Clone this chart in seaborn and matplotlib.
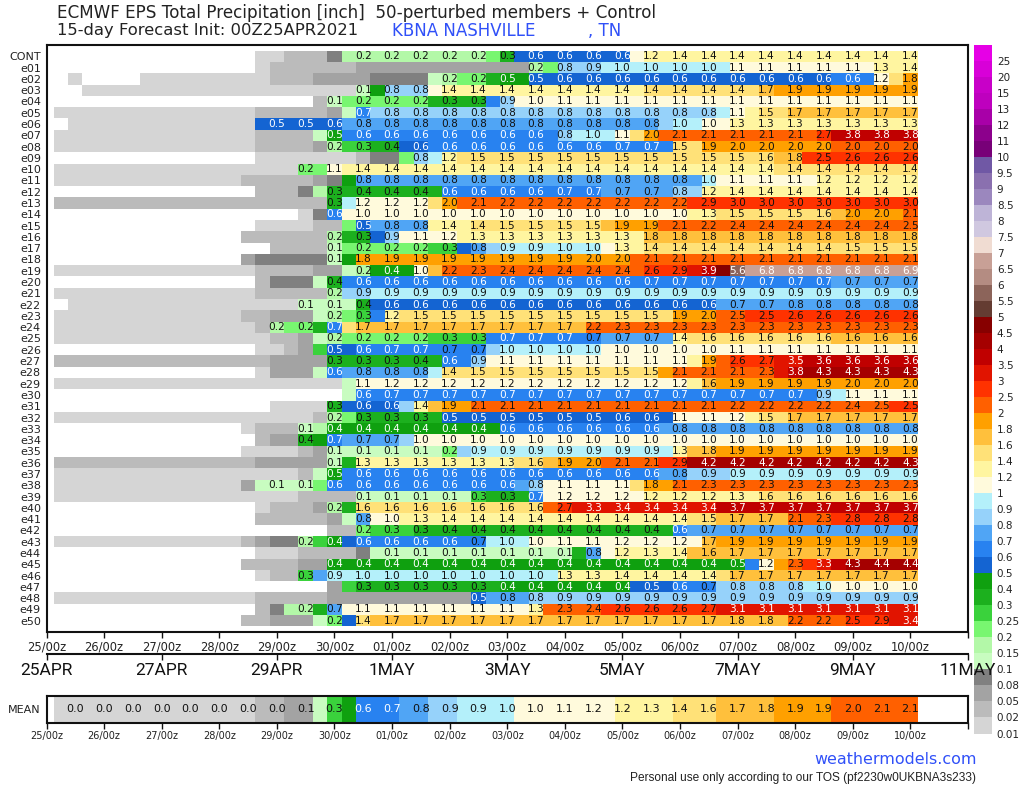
import numpy as np
import pandas as pd
import matplotlib
matplotlib.use("Agg")
import matplotlib.pyplot as plt
from matplotlib.colors import ListedColormap, BoundaryNorm
import seaborn as sns

levels = [0.01, 0.02, 0.05, 0.08, 0.1, 0.15, 0.2, 0.25, 0.3, 0.4, 0.5, 0.6, 0.7, 0.8, 0.9, 1, 1.2, 1.4, 1.6, 1.8, 2,
          2.5, 3, 3.5, 4, 4.5, 5, 5.5, 6, 6.5, 7, 7.5, 8, 8.5, 9, 9.5, 10, 11, 12, 13, 15, 20, 25]
level_labels = ["0.01", "0.02", "0.05", "0.08", "0.1", "0.15", "0.2", "0.25", "0.3", "0.4", "0.5", "0.6", "0.7", "0.8",
                "0.9", "1", "1.2", "1.4", "1.6", "1.8", "2", "2.5", "3", "3.5", "4", "4.5", "5", "5.5", "6", "6.5", "7",
                "7.5", "8", "8.5", "9", "9.5", "10", "11", "12", "13", "15", "20", "25"]
colors = ["#d5d5d5", "#bbbbbb", "#a3a3a3", "#808080", "#c8fcc0", "#b3f8a8", "#78f670", "#3ad23c", "#1cb01e", "#0fa00f",
          "#1464d2", "#2882f0", "#50a5f5", "#96d2fa", "#b4f0fa", "#fffadc", "#fff5a0", "#ffe178", "#ffc03c", "#ffa000",
          "#ff6000", "#ff3200", "#e11400", "#c00000", "#a50000", "#870000", "#643c32", "#8c645a", "#b48c82", "#c8a096",
          "#f0dcd2", "#d0c8e0", "#beb4d7", "#9b87be", "#8a70af", "#7058a5", "#780078", "#8c008c", "#a800a8", "#be00be",
          "#c800c8", "#d800d8", "#e600e6"]

CONT = [0,0,0,0,0,0,0,0,0,0,0,0,0,0,.01,.01,.03,.03,.03,.09,
        .17,.17,.17,.17,.17,.17,.17,.17,.17,.17,.22,.33,.57,.57,.57,.57,.57,.57,.57,.57,
        1.1,1.25,1.38,1.38,1.38,1.38,1.38,1.38,1.38,1.38,1.38,1.38,1.38,1.38,1.38,1.38,1.38,1.38,1.38,1.38]
e01 = [0,0,0,0,0,0,0,0,0,0,0,0,0,0,.01,.03,.03,.03,.03,.03,
       .03,.06,.06,.06,.06,.06,.06,.06,.06,.06,.06,.06,.06,.17,.22,.82,.85,.88,.92,.97,
       .98,.98,.98,.98,.98,.98,.98,1.08,1.08,1.08,1.08,1.08,1.08,1.08,1.08,1.08,1.08,1.3,1.35,1.38]
e02 = [0,.01,0,0,0,0,.01,.01,.01,.01,.01,.01,.01,.01,.01,.03,.03,.03,.06,.06,
       .06,.06,.09,.09,.09,.09,.14,.17,.22,.22,.33,.47,.47,.52,.57,.57,.57,.57,.57,.57,
       .57,.57,.57,.57,.57,.57,.57,.57,.57,.57,.57,.57,.57,.57,.62,.62,.62,1.18,1.5,1.82]
e03 = [0,0,.01,.01,.01,.01,.01,.01,.01,.01,.01,.01,.01,.01,.01,.01,.01,.01,.01,.01,
       .01,.12,.42,.82,.82,.82,1.1,1.38,1.38,1.38,1.38,1.38,1.38,1.38,1.38,1.38,1.38,1.38,1.38,1.38,
       1.38,1.42,1.42,1.42,1.42,1.42,1.42,1.42,1.42,1.7,1.88,1.88,1.88,1.88,1.88,1.88,1.88,1.88,1.88,1.88]
e04 = [0,0,0,0,0,0,0,0,0,0,0,0,0,0,0,0,0,0,.03,.12,
       .22,.22,.22,.22,.22,.22,.33,.33,.33,.33,.63,.88,1.02,1.02,1.08,1.08,1.08,1.08,1.08,1.08,
       1.08,1.08,1.08,1.08,1.08,1.08,1.08,1.08,1.08,1.08,1.08,1.08,1.08,1.08,1.08,1.08,1.08,1.08,1.08,1.08]
e05 = [.01,.01,.01,.01,.01,.01,.01,.01,.01,.01,.01,.01,.01,.01,.03,.03,.03,.03,.03,.06,
       .12,.69,.82,.82,.82,.82,.82,.82,.82,.82,.82,.82,.82,.82,.82,.82,.82,.82,.82,.82,
       .82,.82,.82,.82,.82,.82,.95,1.08,1.3,1.5,1.5,1.7,1.7,1.7,1.7,1.7,1.7,1.7,1.7,1.7]
e06 = [0,.01,.01,.01,.01,.01,.01,.01,.01,.01,.01,.01,.01,.01,.52,.52,.52,.52,.52,.57,
       .77,.77,.77,.77,.77,.77,.77,.77,.77,.77,.77,.77,.77,.77,.77,.77,.77,.77,.77,.77,
       .77,.77,.85,.97,.98,1.04,1.15,1.3,1.3,1.3,1.3,1.3,1.3,1.3,1.3,1.3,1.3,1.3,1.3,1.3]
e07 = [.01,.01,.01,.01,.01,.01,.01,.01,.01,.01,.01,.01,.01,.01,.03,.03,.03,.03,.12,.47,
       .63,.63,.63,.63,.63,.63,.63,.63,.63,.63,.63,.63,.63,.63,.63,.82,.95,.97,.98,1.08,
       1.5,1.98,2.05,2.1,2.1,2.1,2.1,2.1,2.1,2.1,2.1,2.1,2.1,2.7,3.8,3.8,3.8,3.8,3.8,3.8]
e08 = [.01,.01,.01,.01,.01,.01,.01,.01,.01,.01,.01,.01,.01,.01,.03,.03,.03,.03,.06,.17,
       .27,.28,.33,.38,.52,.57,.63,.63,.63,.63,.63,.63,.63,.63,.63,.63,.63,.63,.67,.67,
       .67,.67,.67,1.5,1.5,1.88,1.95,1.97,1.97,1.97,1.97,1.97,1.97,1.97,2.02,2.02,2.02,2.02,2.02,2.02]
e09 = [0,0,0,0,0,0,0,0,0,0,0,0,0,0,.01,.01,.01,.01,.01,.01,
       .01,.03,.09,.09,.22,.84,.95,1.25,1.5,1.5,1.5,1.5,1.5,1.5,1.5,1.5,1.5,1.5,1.5,1.5,
       1.5,1.5,1.5,1.5,1.5,1.5,1.5,1.5,1.55,1.58,1.7,1.78,2.55,2.55,2.6,2.6,2.6,2.6,2.6,2.6]
e10 = [.01,.01,.01,.01,.01,.01,.01,.01,.01,.01,.01,.01,.01,.01,.01,.01,.01,.22,.22,1.1,
       1.38,1.38,1.38,1.38,1.38,1.38,1.38,1.38,1.38,1.38,1.38,1.38,1.38,1.38,1.38,1.38,1.38,1.38,1.38,1.38,
       1.38,1.38,1.38,1.38,1.38,1.38,1.38,1.38,1.38,1.38,1.42,1.42,1.42,1.42,1.42,1.42,1.42,1.42,1.42,1.42]
e11 = [.01,.01,.01,.01,.01,.01,.01,.01,.01,.01,.01,.01,.01,.03,.03,.03,.03,.03,.06,.09,
       .42,.77,.77,.77,.77,.77,.77,.77,.77,.77,.77,.77,.77,.77,.77,.77,.77,.77,.77,.77,
       .77,.77,.77,.77,.77,.97,1.05,1.08,1.08,1.08,1.08,1.08,1.08,1.22,1.22,1.22,1.22,1.22,1.22,1.22]
e12 = [0,0,0,0,0,0,0,0,0,0,0,0,0,0,.03,.03,.03,.09,.17,.33,
       .38,.38,.38,.38,.38,.38,.38,.62,.62,.62,.62,.62,.62,.62,.62,.67,.67,.67,.72,.72,
       .72,.72,.75,.82,.84,1.22,1.3,1.38,1.38,1.38,1.38,1.38,1.38,1.38,1.38,1.38,1.38,1.38,1.38,1.38]
e13 = [.03,.03,.03,.03,.03,.03,.03,.03,.03,.03,.03,.03,.03,.03,.03,.03,.03,.03,.03,.33,
       .95,1.18,1.18,1.18,1.18,1.18,1.5,1.97,2.05,2.1,2.15,2.2,2.2,2.2,2.2,2.2,2.2,2.2,2.2,2.2,
       2.2,2.2,2.2,2.2,2.8,2.9,2.97,2.97,2.97,2.97,2.97,2.97,2.97,2.97,2.97,2.97,2.97,2.97,2.97,2.97]
e14 = [0,0,0,0,0,0,0,0,0,0,0,0,0,0,0,0,0,.01,.09,.62,
       1.02,1.02,1.02,1.02,1.02,1.02,1.02,1.02,1.02,1.02,1.02,1.02,1.02,1.02,1.02,1.02,1.02,1.02,1.02,1.02,
       1.02,1.02,1.02,1.02,1.25,1.3,1.45,1.5,1.5,1.5,1.5,1.5,1.5,1.58,1.7,1.97,1.97,1.97,1.98,2.1]
e15 = [0,0,0,0,0,0,0,0,0,0,0,0,0,0,.01,.01,.01,.01,.03,.03,
       .22,.54,.77,.77,.77,.77,1.25,1.38,1.38,1.42,1.5,1.5,1.5,1.5,1.5,1.5,1.5,1.5,1.7,1.88,
       1.88,1.88,2.05,2.1,2.15,2.2,2.4,2.4,2.4,2.4,2.4,2.4,2.4,2.4,2.4,2.4,2.4,2.4,2.4,2.47]
e16 = [0,0,0,0,0,0,0,0,0,0,0,0,0,.03,.03,.03,.03,.03,.03,.17,
       .33,.33,.52,.88,1.05,1.1,1.15,1.18,1.25,1.3,1.3,1.3,1.3,1.3,1.3,1.3,1.3,1.3,1.3,1.3,
       1.3,1.78,1.78,1.78,1.78,1.78,1.78,1.78,1.78,1.78,1.78,1.78,1.78,1.78,1.78,1.78,1.78,1.78,1.78,1.78]
e17 = [0,0,0,0,0,0,0,0,0,0,0,0,0,0,0,.03,.03,.03,.03,.12,
       .22,.22,.22,.22,.22,.22,.27,.27,.52,.77,.84,.92,.92,.92,.92,.97,.97,.97,1.1,1.3,
       1.35,1.42,1.42,1.42,1.42,1.42,1.42,1.42,1.42,1.42,1.42,1.42,1.42,1.42,1.42,1.5,1.5,1.5,1.5,1.5]
e18 = [0,0,0,0,0,0,0,0,0,0,0,0,0,.06,.09,.09,.09,.09,.09,.12,
       .42,1.82,1.82,1.88,1.88,1.88,1.88,1.88,1.88,1.88,1.88,1.88,1.88,1.88,1.88,1.88,1.97,1.97,1.97,1.97,
       2.1,2.1,2.1,2.1,2.1,2.1,2.1,2.1,2.1,2.1,2.1,2.1,2.1,2.1,2.1,2.1,2.1,2.1,2.1,2.1]
e19 = [.01,.01,.01,.01,.01,.01,.01,.01,.01,.01,.01,.01,.01,.01,.03,.03,.03,.03,.06,.06,
       .12,.17,.42,.42,.42,1.02,1.7,2.2,2.25,2.3,2.35,2.4,2.4,2.4,2.4,2.4,2.4,2.4,2.4,2.4,
       2.45,2.6,2.7,2.9,3.2,3.9,4.8,5.6,6.6,6.8,6.8,6.8,6.8,6.8,6.8,6.8,6.8,6.8,6.8,6.9]
e20 = [0,0,0,0,0,0,0,0,0,0,0,0,0,0,.03,.09,.09,.09,.12,.38,
       .63,.63,.63,.63,.63,.63,.63,.63,.63,.63,.63,.63,.63,.63,.63,.63,.63,.63,.63,.63,
       .63,.67,.67,.67,.67,.67,.67,.67,.67,.67,.67,.67,.67,.67,.72,.72,.72,.72,.72,.72]
e21 = [.01,.01,.01,.01,.01,.01,.01,.01,.01,.01,.01,.01,.01,.01,.03,.03,.03,.03,.03,.17,
       .84,.88,.92,.92,.92,.92,.92,.92,.92,.92,.92,.92,.92,.92,.92,.92,.92,.92,.92,.92,
       .92,.92,.92,.92,.92,.92,.92,.92,.92,.92,.92,.92,.92,.92,.92,.92,.92,.92,.92,.92]
e22 = [0,.01,.01,.01,.01,.01,.01,.01,.01,.01,.01,.01,.01,.01,.01,.01,.01,.12,.12,.12,
       .12,.38,.57,.57,.57,.57,.57,.57,.57,.57,.57,.57,.57,.57,.57,.57,.57,.57,.57,.57,
       .57,.57,.57,.57,.57,.57,.72,.72,.72,.72,.72,.77,.77,.77,.77,.77,.77,.77,.77,.77]
e23 = [.01,.01,.01,.01,.01,.01,.01,.01,.01,.01,.01,.01,.01,.03,.03,.06,.06,.06,.12,.17,
       .22,.27,.63,1.22,1.5,1.5,1.5,1.5,1.5,1.5,1.5,1.5,1.5,1.5,1.5,1.5,1.5,1.5,1.5,1.5,
       1.5,1.5,1.5,1.88,1.95,1.97,2.1,2.47,2.52,2.55,2.6,2.6,2.6,2.6,2.6,2.6,2.6,2.6,2.6,2.6]
e24 = [.01,.01,.01,.01,.01,.01,.01,.01,.01,.01,.01,.01,.01,.01,.03,.17,.22,.22,.33,.69,
       1.5,1.7,1.7,1.7,1.7,1.7,1.7,1.7,1.7,1.7,1.7,1.7,1.7,1.7,1.7,1.7,1.7,2.2,2.3,2.3,
       2.3,2.3,2.3,2.3,2.3,2.3,2.3,2.3,2.3,2.3,2.3,2.3,2.3,2.3,2.3,2.3,2.3,2.3,2.3,2.3]
e25 = [.01,.01,.01,.01,.01,.01,.01,.01,.01,.01,.01,.01,.01,.01,.01,.03,.03,.06,.12,.17,
       .22,.22,.22,.22,.22,.22,.27,.27,.27,.27,.65,.67,.67,.67,.67,.67,.67,.695,.72,.72,
       .72,.72,.72,1.38,1.42,1.58,1.58,1.58,1.58,1.58,1.58,1.58,1.58,1.58,1.62,1.62,1.62,1.62,1.62,1.62]
e26 = [0,0,0,0,0,0,0,0,0,0,0,0,0,0,.01,.01,.03,.06,.27,.52,
       .55,.63,.65,.67,.67,.67,.68,.695,.695,.695,.84,.97,.97,.97,.97,.97,.97,.97,1.02,1.02,
       1.02,1.02,1.02,1.02,1.02,1.02,1.05,1.08,1.08,1.08,1.08,1.08,1.08,1.08,1.08,1.08,1.08,1.08,1.08,1.08]
e27 = [.03,.03,.03,.03,.03,.03,.03,.03,.03,.03,.03,.03,.03,.03,.03,.06,.06,.06,.06,.33,
       .33,.33,.33,.33,.33,.38,.38,.62,.65,.88,1.05,1.08,1.08,1.08,1.08,1.08,1.08,1.08,1.08,1.08,
       1.08,1.08,1.08,1.08,1.3,1.88,2.3,2.6,2.6,2.7,3.3,3.47,3.6,3.6,3.6,3.6,3.6,3.6,3.6,3.6]
e28 = [0,0,0,0,0,0,0,0,0,0,0,0,0,0,.01,.06,.06,.06,.12,.63,
       .77,.77,.77,.77,.77,.77,.95,1.42,1.45,1.5,1.5,1.5,1.5,1.5,1.5,1.5,1.5,1.5,1.5,1.5,
       1.5,1.5,1.9,2.1,2.1,2.1,2.1,2.1,2.1,2.3,3.3,3.8,4.2,4.3,4.3,4.3,4.3,4.3,4.3,4.3]
e29 = [.01,.01,.01,.01,.01,.01,.01,.01,.01,.01,.01,.01,.01,.01,.01,.01,.01,.01,.01,.01,
       .12,1.08,1.15,1.18,1.18,1.18,1.18,1.18,1.18,1.18,1.18,1.18,1.18,1.18,1.18,1.18,1.18,1.18,1.18,1.18,
       1.18,1.18,1.18,1.18,1.3,1.62,1.85,1.88,1.88,1.88,1.88,1.88,1.88,1.88,1.88,1.97,1.97,1.97,1.97,1.97]
e30 = [0,0,0,0,0,0,0,0,0,0,0,0,0,0,0,0,0,0,0,0,
       .12,.63,.65,.67,.67,.67,.67,.67,.67,.67,.67,.67,.67,.67,.67,.67,.67,.67,.67,.67,
       .67,.67,.67,.67,.67,.67,.67,.67,.67,.67,.67,.67,.67,.88,.95,1.08,1.08,1.08,1.08,1.08]
e31 = [0,0,0,0,0,0,0,0,0,0,0,0,0,0,0,.01,.01,.01,.01,.33,
       .52,.57,.57,.57,.84,1.38,1.7,1.88,1.95,2.1,2.1,2.1,2.1,2.1,2.1,2.1,2.1,2.1,2.1,2.1,
       2.1,2.1,2.1,2.1,2.1,2.1,2.15,2.2,2.2,2.2,2.2,2.2,2.2,2.2,2.3,2.4,2.45,2.47,2.52,2.52]
e32 = [.01,.01,.01,.01,.01,.01,.01,.01,.01,.01,.01,.01,.01,.01,.01,.01,.01,.01,.03,.17,
       .22,.33,.33,.33,.33,.33,.33,.52,.52,.52,.52,.52,.52,.52,.52,.52,.52,.52,.57,.57,
       .57,.57,.57,1.08,1.08,1.08,1.08,1.18,1.3,1.5,1.55,1.7,1.7,1.7,1.7,1.7,1.7,1.7,1.7,1.7]
e33 = [0,0,0,0,0,0,0,0,0,0,0,0,0,.01,.03,.03,.03,.12,.17,.42,
       .42,.42,.42,.42,.42,.42,.42,.42,.42,.42,.42,.63,.63,.63,.63,.63,.63,.63,.63,.63,
       .63,.63,.72,.77,.77,.77,.77,.77,.77,.77,.77,.77,.77,.77,.77,.77,.77,.77,.77,.77]
e34 = [0,0,0,0,0,0,0,0,0,0,0,0,0,0,.03,.06,.06,.38,.42,.69,
       .72,.72,.72,.72,.84,1.02,1.02,1.02,1.02,1.02,1.02,1.02,1.02,1.02,1.02,1.02,1.02,1.02,1.02,1.02,
       1.02,1.02,1.02,1.02,1.02,1.02,1.02,1.02,1.02,1.02,1.02,1.02,1.02,1.02,1.02,1.02,1.02,1.02,1.02,1.02]
e35 = [0,0,0,0,0,0,0,0,0,0,0,0,0,.01,.01,.01,.01,.03,.06,.12,
       .12,.12,.12,.12,.12,.12,.12,.22,.84,.92,.92,.92,.92,.92,.92,.92,.92,.92,.92,.92,
       .92,.92,.95,1.3,1.7,1.78,1.85,1.88,1.88,1.88,1.88,1.88,1.88,1.88,1.88,1.88,1.88,1.88,1.88,1.88]
e36 = [.03,.03,.03,.03,.03,.03,.03,.03,.03,.03,.03,.03,.03,.03,.06,.06,.06,.06,.06,.12,
       .33,1.3,1.3,1.3,1.3,1.3,1.3,1.3,1.3,1.3,1.3,1.3,1.5,1.58,1.7,1.88,1.9,1.97,2.05,2.1,
       2.1,2.1,2.7,2.9,4.2,4.2,4.2,4.2,4.2,4.2,4.2,4.2,4.2,4.2,4.2,4.2,4.2,4.2,4.2,4.3]
e37 = [.01,.01,.01,.01,.01,.01,.01,.01,.01,.01,.01,.01,.01,.01,.01,.01,.01,.03,.12,.47,
       .63,.63,.63,.63,.63,.63,.63,.63,.63,.63,.63,.63,.63,.63,.63,.63,.63,.63,.63,.63,
       .63,.63,.72,.77,.84,.88,.88,.92,.92,.92,.92,.92,.92,.92,.92,.92,.92,.92,.92,.92]
e38 = [.01,.01,.01,.01,.01,.01,.01,.01,.01,.01,.01,.01,.01,.06,.12,.12,.12,.12,.22,.63,
       .63,.63,.63,.63,.63,.63,.63,.63,.63,.63,.63,.63,.75,.82,1.05,1.08,1.08,1.08,1.08,1.08,
       1.5,1.82,1.95,2.1,2.2,2.3,2.3,2.3,2.3,2.3,2.3,2.3,2.3,2.3,2.3,2.3,2.3,2.3,2.3,2.3]
e39 = [.01,.01,.01,.01,.01,.01,.01,.01,.01,.01,.01,.01,.01,.01,.01,.01,.01,.03,.03,.03,
       .03,.12,.12,.12,.12,.12,.12,.12,.12,.27,.33,.33,.33,.67,1.05,1.18,1.18,1.18,1.18,1.18,
       1.18,1.22,1.22,1.22,1.22,1.22,1.25,1.3,1.3,1.58,1.58,1.58,1.58,1.58,1.58,1.58,1.58,1.58,1.58,1.58]
e40 = [0,0,0,0,0,0,0,0,0,0,0,0,0,0,.01,.03,.03,.03,.06,.17,
       .33,1.58,1.58,1.58,1.58,1.58,1.58,1.58,1.58,1.58,1.58,1.58,1.58,1.58,2.2,2.7,3.1,3.3,3.35,3.4,
       3.4,3.4,3.4,3.4,3.4,3.4,3.6,3.7,3.7,3.7,3.7,3.7,3.7,3.7,3.7,3.7,3.7,3.7,3.7,3.7]
e41 = [0,0,0,0,0,0,0,0,0,0,0,0,0,0,.03,.03,.03,.03,.03,.06,
       .12,.77,1.02,1.02,1.25,1.3,1.35,1.38,1.38,1.38,1.38,1.38,1.38,1.38,1.38,1.38,1.38,1.38,1.38,1.38,
       1.38,1.38,1.38,1.38,1.42,1.5,1.65,1.7,1.7,1.7,1.7,2.1,2.2,2.3,2.7,2.8,2.8,2.8,2.8,2.8]
e42 = [0,0,0,0,0,0,0,0,0,0,0,0,0,0,0,0,0,0,0,.03,
       .03,.22,.27,.27,.27,.33,.33,.38,.38,.38,.38,.38,.38,.38,.38,.38,.38,.38,.38,.38,
       .38,.38,.38,.63,.7,.72,.72,.72,.72,.72,.72,.72,.72,.72,.72,.72,.72,.72,.72,.72]
e43 = [.01,.01,.01,.01,.01,.01,.01,.01,.01,.01,.01,.01,.01,.03,.06,.09,.09,.17,.27,.42,
       .52,.62,.62,.62,.62,.62,.62,.62,.65,.695,.95,.97,.98,1.02,1.05,1.08,1.08,1.08,1.12,1.18,
       1.18,1.18,1.18,1.18,1.18,1.7,1.85,1.88,1.88,1.88,1.88,1.88,1.88,1.88,1.88,1.88,1.88,1.88,1.88,1.88]
e44 = [0,0,0,0,0,0,0,0,0,0,0,0,0,0,.01,.01,.01,.03,.03,.03,
       .03,.09,.12,.12,.12,.12,.12,.12,.12,.12,.12,.12,.12,.12,.12,.12,.33,.77,1.1,1.22,
       1.25,1.3,1.35,1.38,1.62,1.62,1.68,1.7,1.7,1.7,1.7,1.7,1.7,1.7,1.7,1.7,1.7,1.7,1.7,1.7]
e45 = [0,0,0,0,0,0,0,0,0,0,0,0,0,.03,.03,.03,.03,.06,.06,.42,
       .42,.42,.42,.42,.42,.42,.42,.42,.42,.42,.42,.42,.42,.42,.42,.42,.42,.42,.42,.42,
       .42,.42,.42,.42,.42,.42,.42,.47,.63,1.18,1.85,2.3,2.8,3.3,3.8,4.3,4.35,4.4,4.4,4.4]
e46 = [0,0,0,0,0,0,0,0,0,0,0,0,0,0,.01,.03,.03,.27,.72,.92,
       .92,.97,.97,.97,.97,.97,.97,.97,.97,.97,.97,.97,.97,.97,.97,1.3,1.3,1.3,1.35,1.38,
       1.38,1.38,1.38,1.38,1.38,1.38,1.5,1.7,1.7,1.7,1.7,1.7,1.7,1.7,1.7,1.7,1.7,1.7,1.7,1.7]
e47 = [0,0,0,0,0,0,0,0,0,0,0,0,0,0,0,0,0,0,0,.06,
       .27,.33,.33,.33,.33,.33,.33,.33,.33,.33,.33,.42,.42,.42,.42,.42,.42,.42,.42,.42,
       .52,.52,.55,.63,.65,.695,.82,.82,.82,.82,.82,.82,.95,.97,1.02,1.02,1.02,1.02,1.02,1.02]
e48 = [.01,.01,.01,.01,.01,.01,.01,.01,.01,.01,.01,.01,.01,.01,.03,.03,.03,.03,.03,.06,
       .06,.06,.06,.06,.06,.06,.06,.06,.06,.52,.77,.77,.77,.82,.85,.88,.88,.88,.88,.88,
       .88,.88,.88,.88,.88,.88,.88,.88,.88,.88,.88,.88,.88,.88,.88,.88,.88,.88,.88,.88]
e49 = [0,0,0,0,0,0,0,0,0,0,0,0,0,0,.03,.09,.17,.17,.33,.72,
       1.08,1.08,1.08,1.08,1.08,1.08,1.08,1.08,1.08,1.08,1.08,1.08,1.08,1.3,2.1,2.3,2.35,2.4,2.55,2.6,
       2.6,2.6,2.6,2.6,2.6,2.7,3.05,3.1,3.1,3.1,3.1,3.1,3.1,3.1,3.1,3.1,3.1,3.1,3.1,3.1]
e50 = [0,0,0,0,0,0,0,0,0,0,0,0,0,.03,.03,.06,.06,.06,.12,.22,
       .52,1.42,1.65,1.7,1.7,1.7,1.7,1.7,1.7,1.7,1.7,1.7,1.7,1.7,1.7,1.7,1.7,1.7,1.7,1.7,
       1.7,1.7,1.7,1.7,1.7,1.7,1.7,1.78,1.78,1.78,1.78,2.2,2.2,2.2,2.3,2.52,2.6,2.88,3.2,3.4]
MEAN = [.01,.01,.01,.01,.01,.01,.01,.01,.01,.01,.01,.01,.01,.01,.03,.03,.06,.06,.12,.27,
        .42,.63,.65,.67,.72,.77,.84,.88,.92,.92,.95,.97,1.02,1.02,1.05,1.08,1.12,1.18,1.18,1.22,
        1.25,1.3,1.35,1.42,1.5,1.58,1.62,1.7,1.75,1.78,1.85,1.88,1.9,1.92,2.02,2.02,2.05,2.1,2.1,2.1]

members = ["CONT"] + ["e%02d" % i for i in range(1, 51)]
rows = [CONT, e01, e02, e03, e04, e05, e06, e07, e08, e09, e10, e11, e12, e13, e14, e15, e16, e17, e18, e19, e20,
        e21, e22, e23, e24, e25, e26, e27, e28, e29, e30, e31, e32, e33, e34, e35, e36, e37, e38, e39, e40,
        e41, e42, e43, e44, e45, e46, e47, e48, e49, e50]

day_labels = ["25/00z", "26/00z", "27/00z", "28/00z", "29/00z", "30/00z", "01/00z", "02/00z", "03/00z", "04/00z",
              "05/00z", "06/00z", "07/00z", "08/00z", "09/00z", "10/00z", ""]
date_labels = ["25APR", "27APR", "29APR", "1MAY", "3MAY", "5MAY", "7MAY", "9MAY", "11MAY"]

W, H = 1024, 788
line_color = "#111111"
text_color = "#222222"


def box(x0, y0, x1, y1):
    # pixel box (from top left) to figure fractions
    return [x0 / W, 1 - y1 / H, (x1 - x0) / W, (y1 - y0) / H]


def text_white(v):
    return 0.4 <= v <= 0.69 or v >= 3.05


def draw_grid(ax, data, always_label, size):
    labels = np.full(data.shape, "", dtype=object)
    for (r, c), v in np.ndenumerate(data):
        # only every second step has a number
        if (c + 1) % 2 == 0 and (always_label or v >= 0.1):
            labels[r, c] = "%.1f" % v
    sns.heatmap(data, ax=ax, cmap=cmap, norm=norm, cbar=False, annot=labels, fmt="",
                annot_kws={"fontsize": size}, xticklabels=False, yticklabels=False)
    for t, v in zip(ax.texts, data.ravel()):
        t.set_color("white" if text_white(v) else "#111111")
    ax.set_xlim(-0.5, 63.5)
    for s in ax.spines.values():
        s.set_visible(True)
        s.set_linewidth(1.5)
        s.set_color(line_color)


sns.set_theme(style="white")
plt.rcParams["font.family"] = ["DejaVu Sans"]

cmap = ListedColormap(["#ffffff"] + colors)
norm = BoundaryNorm([0] + levels + [1000], cmap.N)

fig = plt.figure(figsize=(W / 100, H / 100), dpi=100)
fig.patch.set_facecolor("white")

day_ticks = [4 * d - 0.5 for d in range(17)]

# members
ax = fig.add_axes(box(46.5, 45, 968, 632))
grid = pd.DataFrame(np.array(rows), index=members)
draw_grid(ax, grid.values, False, 7.6)
ax.set_ylim(51.5, -0.5)
ax.set_yticks(np.arange(len(members)) + 0.5)
ax.set_yticklabels(members, fontsize=8, color=text_color)
ax.tick_params(axis="y", length=0, pad=4)
ax.set_xticks(day_ticks)
ax.set_xticklabels(day_labels, fontsize=8.3, color=text_color)
ax.tick_params(axis="x", length=4, width=1, pad=2, bottom=True, color=line_color)

# mean row
ax_mean = fig.add_axes(box(46.5, 696, 968, 722.5))
draw_grid(ax_mean, np.array([MEAN]), True, 8)
ax_mean.set_yticks([0.5])
ax_mean.set_yticklabels(["MEAN"], fontsize=8, color=text_color, rotation=0)
ax_mean.tick_params(axis="y", length=0, pad=4)
ax_mean.set_xticks(day_ticks)
ax_mean.set_xticklabels(day_labels, fontsize=7, color=text_color)
ax_mean.tick_params(axis="x", length=4, width=1, pad=2, bottom=True, color=line_color)

# colour scale
ax_cb = fig.add_axes(box(974, 45, 992, 733.5))
scale = np.array(levels[::-1]).reshape(-1, 1)
sns.heatmap(scale, ax=ax_cb, cmap=cmap, norm=norm, cbar=False, xticklabels=False, yticklabels=False)
ax_cb.yaxis.tick_right()
ax_cb.set_yticks(np.arange(len(levels)) + 1)
ax_cb.set_yticklabels(level_labels[::-1], fontsize=7.5, color=text_color, rotation=0)
ax_cb.tick_params(axis="y", length=0, pad=3.5)

# date strip
ax_dates = fig.add_axes(box(46.5, 654, 968, 654.01))
ax_dates.set_facecolor("none")
ax_dates.set_xlim(0, 16)
ax_dates.set_yticks([])
ax_dates.set_xticks(range(0, 17, 2))
ax_dates.set_xticklabels(date_labels, fontsize=12.5, color="#111111", family="Roboto")
ax_dates.tick_params(axis="x", length=4.5, width=1, pad=2, bottom=True, color=line_color)
for side in ["top", "left", "right"]:
    ax_dates.spines[side].set_visible(False)
ax_dates.spines["bottom"].set_linewidth(1.5)
ax_dates.spines["bottom"].set_color(line_color)

fig.text(57 / W, 1 - 13 / H, "ECMWF EPS Total Precipitation [inch]  50-perturbed members + Control",
         fontsize=12.1, color=text_color, va="center", ha="left")
fig.text(57 / W, 1 - 31 / H, "15-day Forecast Init: 00Z25APR2021", fontsize=11.8, color=text_color, va="center", ha="left")
fig.text(392 / W, 1 - 31 / H, "KBNA NASHVILLE          , TN", fontsize=12, color="#3050f8", va="center", ha="left")
fig.text(977 / W, 1 - 759 / H, "weathermodels.com", fontsize=11.4, color="#3050f8", va="center", ha="right")
fig.text(976 / W, 1 - 778 / H, "Personal use only according to our TOS (pf2230w0UKBNA3s233)", fontsize=8.55,
         color=text_color, va="center", ha="right", family="Liberation Sans")

fig.savefig("out.png", dpi=100)
